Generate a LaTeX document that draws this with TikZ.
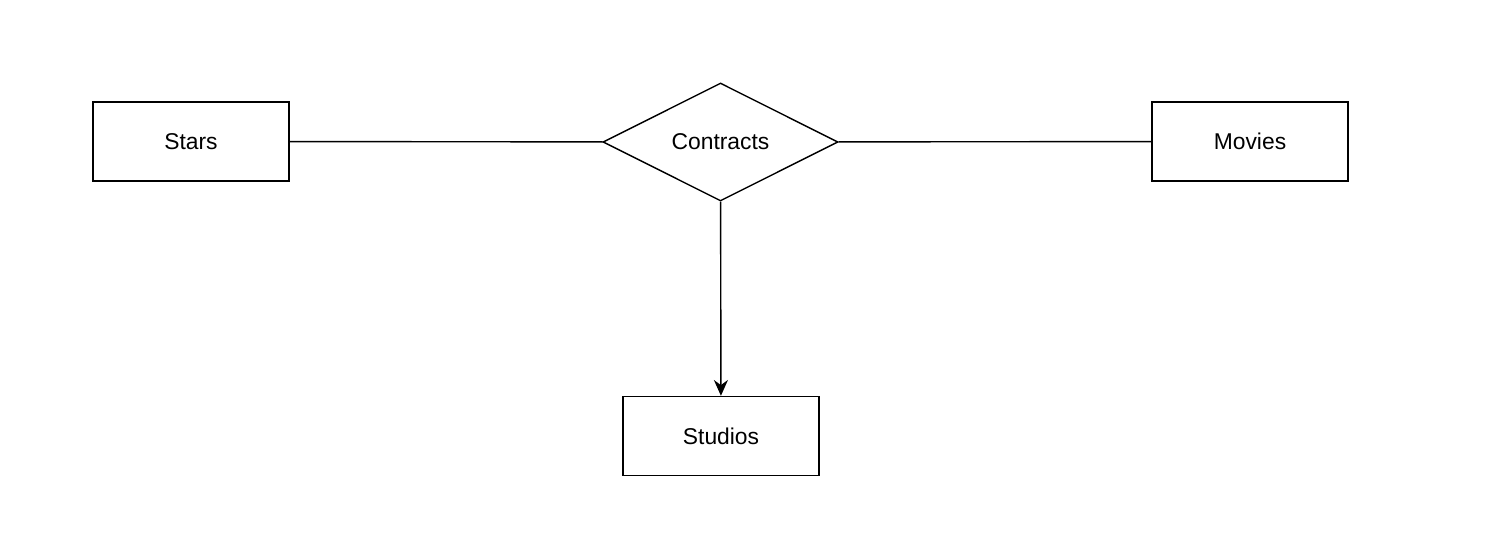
\documentclass[tikz,border=0pt]{standalone}
\usepackage{fontspec}
\setmainfont{Liberation Sans}
\usepackage{tikz}
\usetikzlibrary{arrows.meta, shapes.geometric}

\begin{document}
\begin{tikzpicture}[
  ent/.style={rectangle, draw=black, line width=0.8pt,
              minimum width=3.92cm, minimum height=1.58cm,
              font=\fontsize{13}{15}\selectfont},
  rel/.style={diamond, draw=black, line width=0.8pt, inner sep=0pt,
              minimum width=4.7cm, minimum height=2.36cm,
              font=\fontsize{13}{15}\selectfont},
  arr/.style={-{Stealth[length=9pt,width=8pt]}, line width=0.8pt},
]
\useasboundingbox (0,0) rectangle (30,10.68);

% Entities
\node[ent] (stars) at (3.82,7.85) {Stars};
\node[ent] (movies) at (25.0,7.85) {Movies};
\node[ent] (studios) at (14.42,1.96) {Studios};

% Relationship
\node[rel] (contracts) at (14.41,7.84) {Contracts};

% Connectors
\draw[line width=0.8pt] (stars) -- (contracts);
\draw[line width=0.8pt] (contracts) -- (movies);
\draw[arr] (contracts) -- (studios);
\end{tikzpicture}
\end{document}
